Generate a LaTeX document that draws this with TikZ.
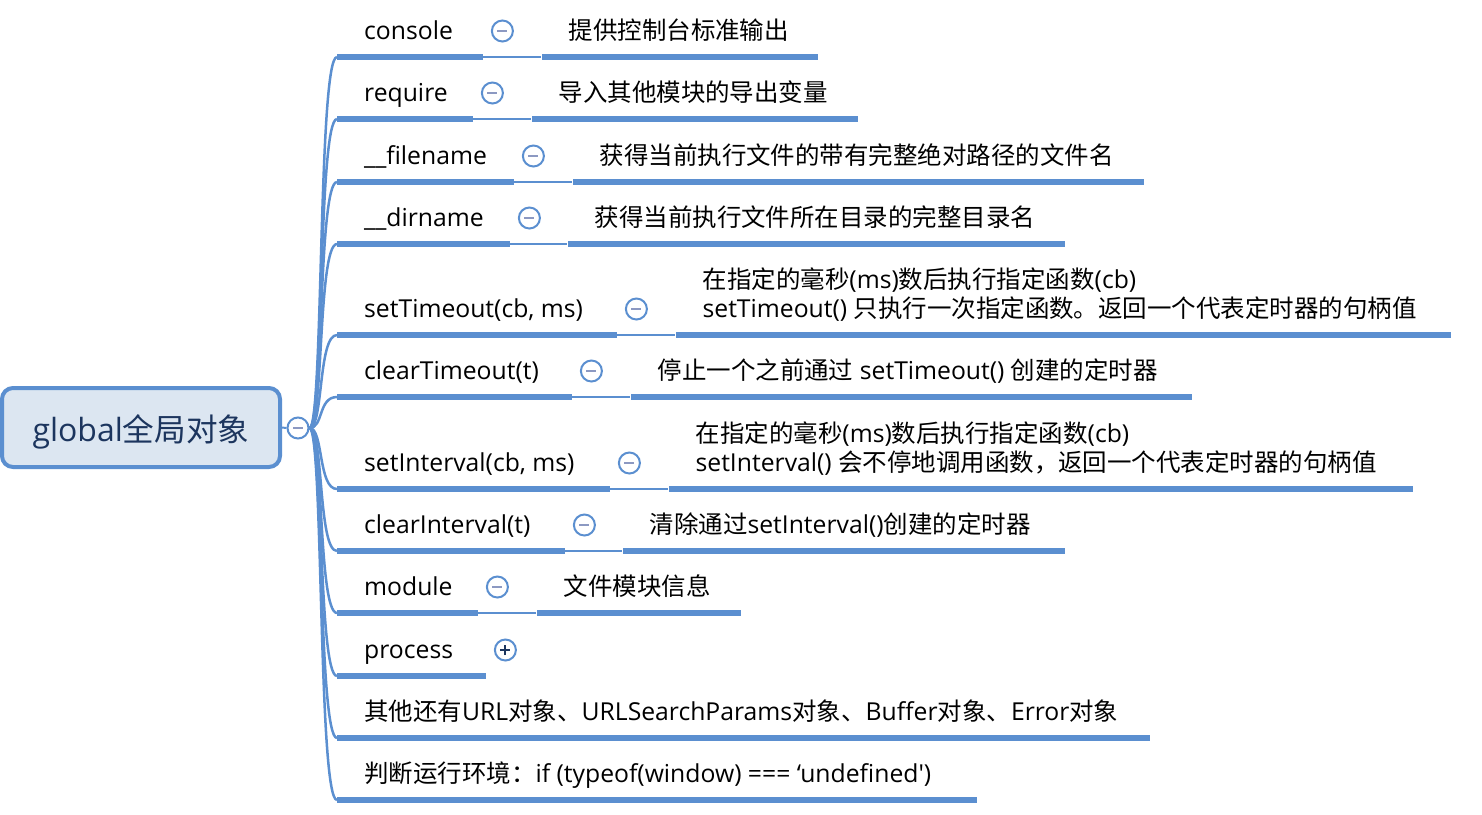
\documentclass[tikz,border=0pt]{standalone}
\usepackage{fontspec}
\usepackage{xcolor}
\usepackage{tikz}
\usetikzlibrary{positioning}
\newfontfamily\latin{Open Sans}[Scale=1.03]
\newfontfamily\cjk{Noto Sans CJK SC}[Scale=1.02]
\definecolor{mapblue}{HTML}{5B8FD0}
\definecolor{rootfill}{HTML}{DCE6F1}
\definecolor{rootink}{HTML}{1C355E}
\definecolor{signgray}{HTML}{8C99C2}
\tikzset{
  root/.style={rectangle, rounded corners=11pt, draw=mapblue, line width=4pt,
    fill=rootfill, minimum width=278pt, minimum height=79pt, text=rootink,
    text height=35pt, text depth=7.5pt, inner ysep=0pt,
    font=\latin\fontsize{31}{37}\selectfont},
  bar/.style={fill=mapblue, inner sep=0pt, minimum height=6pt, anchor=west},
  topic/.style={font=\latin\fontsize{24}{29}\selectfont, inner sep=0pt,
    text depth=0pt, align=left},
  toggle/.style={circle, draw=mapblue, line width=2pt, fill=white,
    inner sep=0pt, minimum size=21pt},
  collapse/.style={toggle, path picture={\draw[signgray, line width=2pt]
    ([xshift=-5pt]path picture bounding box.center) --
    ([xshift=5pt]path picture bounding box.center);}},
  expand/.style={toggle, path picture={\draw[rootink, line width=2pt]
    ([xshift=-5pt]path picture bounding box.center) --
    ([xshift=5pt]path picture bounding box.center)
    ([yshift=-5pt]path picture bounding box.center) --
    ([yshift=5pt]path picture bounding box.center);}},
  link/.style={draw=mapblue, line width=2pt},
  branch/.style={draw=mapblue, line width=2.5pt},
}
\begin{document}
\begin{tikzpicture}[x=1pt, y=-1pt]
  \useasboundingbox (0,0) rectangle (1482,814);

  \node [root] (root) at (141,427.5) {global{\cjk 全局对象}};
  \node [collapse] (rootT) at (298,428) {};
  \draw [link] (root.east) -- (rootT.west);

  % console
  \node [bar, minimum width=146pt] (conB) at (337,57) {};
  \node [topic, above right=17pt and 27pt of conB.west] (conL) {console};
  \node [collapse, above right=26pt and 19pt of conB.east, anchor=center] (conT) {};
  \node [bar, minimum width=276pt, right=58pt of conB.east] (conV) {};
  \node [topic, above right=17pt and 27pt of conV.west] (conD) {{\cjk 提供控制台标准输出}};
  \draw [link] (conB.east) -- (conV.west);

  % require
  \node [bar, minimum width=136pt] (reqB) at (337,119) {};
  \node [topic, above right=17pt and 27pt of reqB.west] (reqL) {require};
  \node [collapse, above right=26pt and 19pt of reqB.east, anchor=center] (reqT) {};
  \node [bar, minimum width=326pt, right=58pt of reqB.east] (reqV) {};
  \node [topic, above right=17pt and 27pt of reqV.west] (reqD) {{\cjk 导入其他模块的导出变量}};
  \draw [link] (reqB.east) -- (reqV.west);

  % __filename
  \node [bar, minimum width=177pt] (fileB) at (337,182) {};
  \node [topic, above right=17pt and 27pt of fileB.west] (fileL) {\_\_filename};
  \node [collapse, above right=26pt and 19pt of fileB.east, anchor=center] (fileT) {};
  \node [bar, minimum width=571pt, right=58pt of fileB.east] (fileV) {};
  \node [topic, above right=17pt and 27pt of fileV.west] (fileD) {{\cjk 获得当前执行文件的带有完整绝对路径的文件名}};
  \draw [link] (fileB.east) -- (fileV.west);

  % __dirname
  \node [bar, minimum width=173pt] (dirB) at (337,244) {};
  \node [topic, above right=17pt and 27pt of dirB.west] (dirL) {\_\_dirname};
  \node [collapse, above right=26pt and 19pt of dirB.east, anchor=center] (dirT) {};
  \node [bar, minimum width=497pt, right=57pt of dirB.east] (dirV) {};
  \node [topic, above right=17pt and 27pt of dirV.west] (dirD) {{\cjk 获得当前执行文件所在目录的完整目录名}};
  \draw [link] (dirB.east) -- (dirV.west);

  % setTimeout
  \node [bar, minimum width=280pt] (stoB) at (337,335) {};
  \node [topic, above right=17pt and 27pt of stoB.west] (stoL) {setTimeout(cb, ms)};
  \node [collapse, above right=26pt and 19pt of stoB.east, anchor=center] (stoT) {};
  \node [bar, minimum width=775pt, right=58pt of stoB.east] (stoV) {};
  \node [topic, above right=17pt and 27pt of stoV.west] (stoD)
    {{\cjk 在指定的毫秒}(ms){\cjk 数后执行指定函数}(cb)\\
     setTimeout() {\cjk 只执行一次指定函数。返回一个代表定时器的句柄值}};
  \draw [link] (stoB.east) -- (stoV.west);

  % clearTimeout
  \node [bar, minimum width=235pt] (ctoB) at (337,397) {};
  \node [topic, above right=17pt and 27pt of ctoB.west] (ctoL) {clearTimeout(t)};
  \node [collapse, above right=26pt and 19pt of ctoB.east, anchor=center] (ctoT) {};
  \node [bar, minimum width=561pt, right=58pt of ctoB.east] (ctoV) {};
  \node [topic, above right=17pt and 27pt of ctoV.west] (ctoD)
    {{\cjk 停止一个之前通过} setTimeout() {\cjk 创建的定时器}};
  \draw [link] (ctoB.east) -- (ctoV.west);

  % setInterval
  \node [bar, minimum width=273pt] (sinB) at (337,489) {};
  \node [topic, above right=17pt and 27pt of sinB.west] (sinL) {setInterval(cb, ms)};
  \node [collapse, above right=26pt and 19pt of sinB.east, anchor=center] (sinT) {};
  \node [bar, minimum width=744pt, right=58pt of sinB.east] (sinV) {};
  \node [topic, above right=17pt and 27pt of sinV.west] (sinD)
    {{\cjk 在指定的毫秒}(ms){\cjk 数后执行指定函数}(cb)\\
     setInterval() {\cjk 会不停地调用函数，返回一个代表定时器的句柄值}};
  \draw [link] (sinB.east) -- (sinV.west);

  % clearInterval
  \node [bar, minimum width=228pt] (cinB) at (337,551) {};
  \node [topic, above right=17pt and 27pt of cinB.west] (cinL) {clearInterval(t)};
  \node [collapse, above right=26pt and 19pt of cinB.east, anchor=center] (cinT) {};
  \node [bar, minimum width=442pt, right=57pt of cinB.east] (cinV) {};
  \node [topic, above right=17pt and 27pt of cinV.west] (cinD)
    {{\cjk 清除通过}setInterval(){\cjk 创建的定时器}};
  \draw [link] (cinB.east) -- (cinV.west);

  % module
  \node [bar, minimum width=141pt] (modB) at (337,613) {};
  \node [topic, above right=17pt and 27pt of modB.west] (modL) {module};
  \node [collapse, above right=26pt and 19pt of modB.east, anchor=center] (modT) {};
  \node [bar, minimum width=204pt, right=58pt of modB.east] (modV) {};
  \node [topic, above right=17pt and 27pt of modV.west] (modD) {{\cjk 文件模块信息}};
  \draw [link] (modB.east) -- (modV.west);

  % process
  \node [bar, minimum width=149pt] (procB) at (337,676) {};
  \node [topic, above right=17pt and 27pt of procB.west] (procL) {process};
  \node [expand, above right=26pt and 19pt of procB.east, anchor=center] (procT) {};

  % others
  \node [bar, minimum width=813pt] (miscB) at (337,738) {};
  \node [topic, above right=17pt and 27pt of miscB.west] (miscL)
    {{\cjk 其他还有}URL{\cjk 对象、}URLSearchParams{\cjk 对象、}Buffer{\cjk 对象、}Error{\cjk 对象}};

  % environment
  \node [bar, minimum width=640pt] (envB) at (337,800) {};
  \node [topic, above right=17pt and 27pt of envB.west] (envL)
    {{\cjk 判断运行环境：}if (typeof(window) === ‘undefined')};

  % branches from the root
  \draw [branch] (rootT.east) .. controls +(14,0) and +(-19,0) .. (conB.west);
  \draw [branch] (rootT.east) .. controls +(14,0) and +(-19,0) .. (reqB.west);
  \draw [branch] (rootT.east) .. controls +(14,0) and +(-19,0) .. (fileB.west);
  \draw [branch] (rootT.east) .. controls +(14,0) and +(-19,0) .. (dirB.west);
  \draw [branch] (rootT.east) .. controls +(14,0) and +(-19,0) .. (stoB.west);
  \draw [branch] (rootT.east) .. controls +(14,0) and +(-19,0) .. (ctoB.west);
  \draw [branch] (rootT.east) .. controls +(14,0) and +(-19,0) .. (sinB.west);
  \draw [branch] (rootT.east) .. controls +(14,0) and +(-19,0) .. (cinB.west);
  \draw [branch] (rootT.east) .. controls +(14,0) and +(-19,0) .. (modB.west);
  \draw [branch] (rootT.east) .. controls +(14,0) and +(-19,0) .. (procB.west);
  \draw [branch] (rootT.east) .. controls +(14,0) and +(-19,0) .. (miscB.west);
  \draw [branch] (rootT.east) .. controls +(14,0) and +(-19,0) .. (envB.west);
\end{tikzpicture}
\end{document}
